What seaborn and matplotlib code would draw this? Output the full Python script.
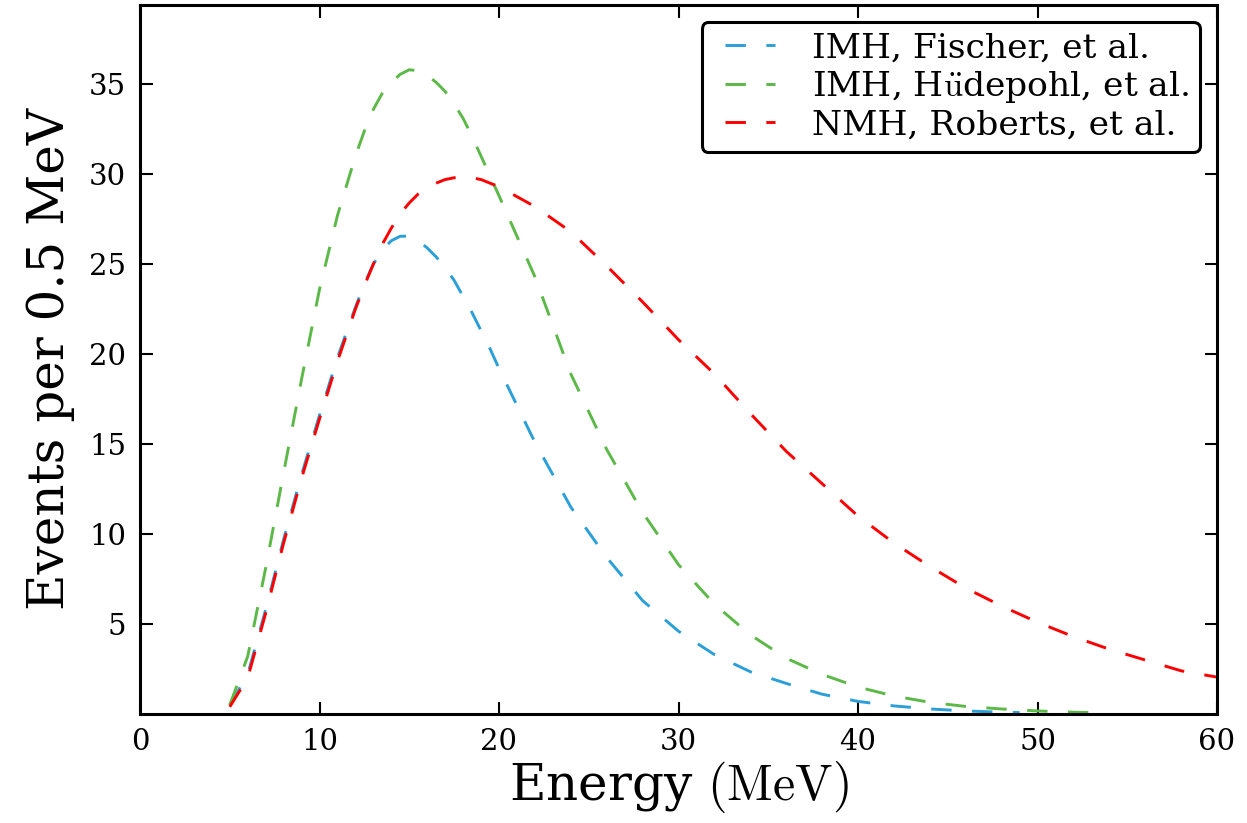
import numpy as np
import pandas as pd
import matplotlib
matplotlib.use("Agg")
import matplotlib.pyplot as plt
from matplotlib.lines import Line2D
from matplotlib.legend_handler import HandlerLine2D
import seaborn as sns

# ---- data ----
e_fischer = [5, 6, 7, 8, 9, 10, 11, 12, 12.5, 13, 13.5, 14, 14.5, 15, 15.5, 16, 16.5, 17, 17.5,
             18, 18.5, 19, 19.5, 20, 22, 24, 26, 28, 30, 32, 34, 36, 38, 40, 42, 44, 46, 48, 49]
v_fischer = [0.5, 2.2, 5.8, 9.7, 13.3, 16.6, 19.8, 22.6, 23.9, 25.0, 25.8, 26.3, 26.55, 26.55,
             26.3, 25.9, 25.4, 24.8, 24.1, 23.2, 22.3, 21.3, 20.3, 19.2, 15.1, 11.5, 8.7, 6.3,
             4.6, 3.3, 2.35, 1.7, 1.1, 0.7, 0.45, 0.28, 0.17, 0.1, 0.08]

e_hudepohl = [5, 6, 7, 8, 9, 10, 11, 12, 12.5, 13, 13.5, 14, 14.5, 15, 15.5, 16, 16.5, 17, 17.5,
              18, 18.5, 19, 19.5, 20, 22, 24, 26, 28, 30, 32, 34, 36, 38, 40, 42, 44, 46, 48,
              50, 52, 53]
v_hudepohl = [0.5, 3.2, 8.1, 13.4, 18.6, 23.6, 27.7, 31.0, 32.4, 33.6, 34.5, 35.1, 35.55, 35.8,
              35.75, 35.5, 35.1, 34.6, 33.9, 33.1, 32.1, 31.0, 29.9, 28.8, 24.3, 18.9, 14.7,
              11.2, 8.3, 6.1, 4.4, 3.1, 2.2, 1.5, 1.0, 0.65, 0.42, 0.28, 0.17, 0.1, 0.08]

e_roberts = [5, 6, 7, 8, 9, 10, 11, 12, 12.5, 13, 13.5, 14, 14.5, 15, 15.5, 16, 16.5, 17, 17.5,
             18, 18.5, 19, 19.5, 20, 22, 24, 26, 28, 30, 32, 34, 36, 38, 40, 42, 44, 46, 48,
             50, 52, 54, 56, 58, 60]
v_roberts = [0.4, 2.0, 5.6, 9.5, 13.1, 16.4, 19.6, 22.5, 23.8, 25.0, 26.1, 27.0, 27.8, 28.4,
             28.9, 29.25, 29.5, 29.7, 29.8, 29.85, 29.8, 29.7, 29.5, 29.3, 28.2, 26.8, 24.9,
             22.9, 20.8, 18.9, 16.7, 14.6, 12.8, 11.0, 9.5, 8.2, 7.0, 6.0, 5.1, 4.3, 3.6, 3.0,
             2.4, 2.05]

labels = ["IMH, Fischer, et al.", r"IMH, H$\ddot{\mathrm{u}}$depohl, et al.",
          "NMH, Roberts, et al."]
colors = ["#2b9fd8", "#5cb947", "#ff0000"]

xticks = [0, 10, 20, 30, 40, 50, 60]
yticks = [5, 10, 15, 20, 25, 30, 35]

df = pd.concat([
    pd.DataFrame({"Energy": e_fischer, "Events": v_fischer, "model": labels[0]}),
    pd.DataFrame({"Energy": e_hudepohl, "Events": v_hudepohl, "model": labels[1]}),
    pd.DataFrame({"Energy": e_roberts, "Events": v_roberts, "model": labels[2]}),
], ignore_index=True)

# ---- style ----
sns.set_style("ticks")
plt.rcParams["font.family"] = ["DejaVu Serif"]
plt.rcParams["mathtext.fontset"] = "cm"
for k in ["text.color", "axes.labelcolor", "xtick.color", "ytick.color", "axes.edgecolor"]:
    plt.rcParams[k] = "black"

fig = plt.figure(figsize=(12.47, 8.23), dpi=100)
ax = fig.add_axes([140 / 1247, 1 - 714 / 823, (1217 - 140) / 1247, (714 - 5) / 823])

dash = (0, (7, 7))
sns.lineplot(data=df, x="Energy", y="Events", hue="model", hue_order=labels,
             palette=dict(zip(labels, colors)), ax=ax, linewidth=2.1, legend=True,
             sort=False, estimator=None)
for line in ax.get_lines():
    line.set_linestyle(dash)

ax.set_xlim(0, 60)
ax.set_ylim(0, 39.4)
ax.set_xticks(xticks)
ax.set_yticks(yticks)
ax.tick_params(axis="both", which="major", labelsize=21, length=9, width=1.5,
               top=True, right=True, direction="in", pad=10, colors="black")
for sp in ax.spines.values():
    sp.set_linewidth(2.2)
    sp.set_color("black")
    sp.set_visible(True)

ax.set_xlabel(r"Energy $\mathrm{(MeV)}$", fontsize=36, labelpad=2)
ax.set_ylabel("Events per 0.5 MeV", fontsize=36, labelpad=10)

handles, lbls = ax.get_legend_handles_labels()
for h in handles:
    h.set_linestyle(dash)
leg = ax.legend(handles, lbls, loc="upper right", fontsize=24.8, frameon=True,
                fancybox=True, labelspacing=0.13, handlelength=1.82, handletextpad=1.1,
                borderpad=0.3, borderaxespad=0.49,
                handler_map={Line2D: HandlerLine2D(xpad=0.37)})
leg.get_frame().set_edgecolor("black")
leg.get_frame().set_linewidth(2.2)
leg.get_frame().set_alpha(1.0)

fig.savefig("out.png", dpi=100)
